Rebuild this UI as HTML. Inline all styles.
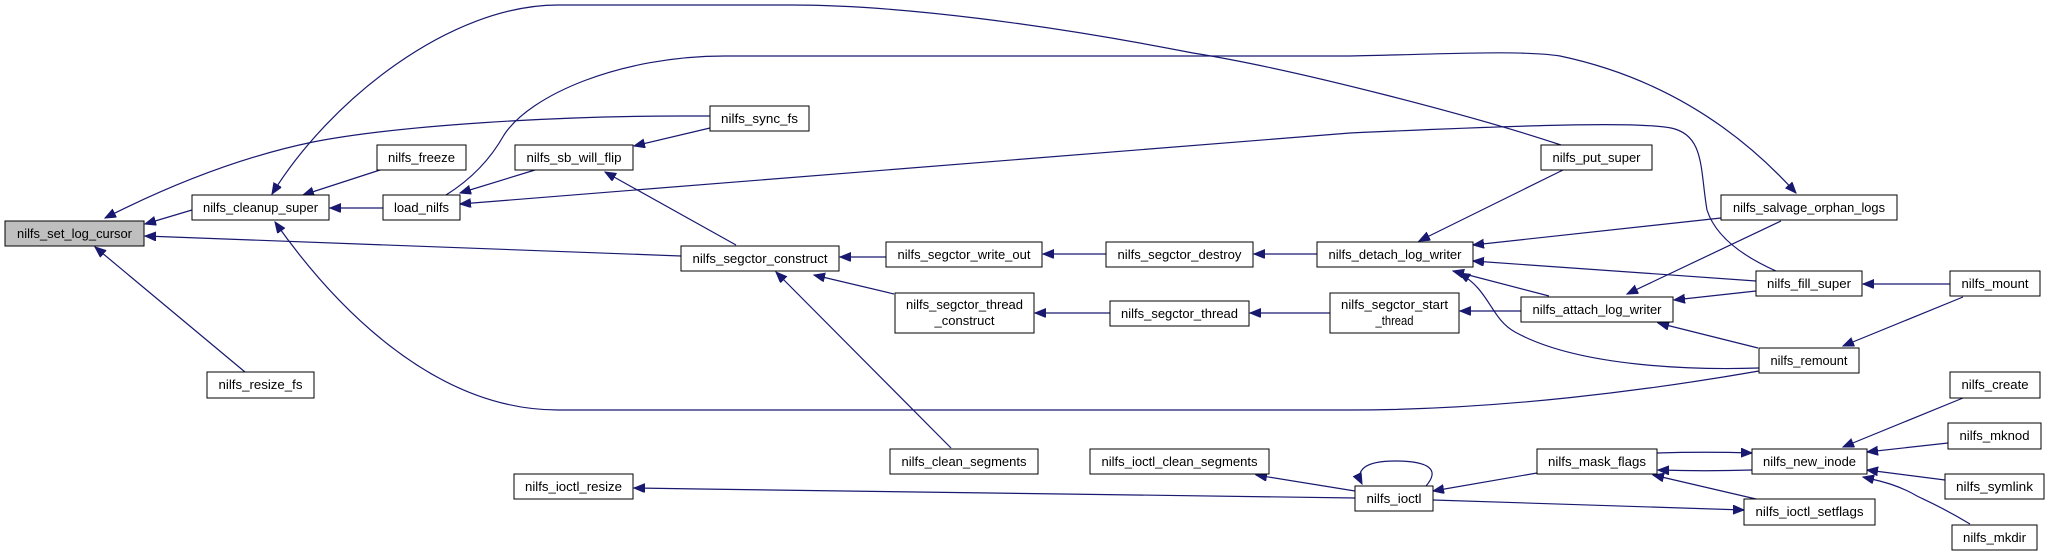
<!DOCTYPE html>
<html><head><meta charset="utf-8"><style>
html,body{margin:0;padding:0;background:#fff;}
svg{display:block;}
text{font-family:"Liberation Sans",Arial,sans-serif;font-size:13px;fill:#000;}
.b{fill:#fff;stroke:#000;stroke-width:1;}
.e{fill:none;stroke:#191970;stroke-width:1.2;}
</style></head><body>
<svg width="2047" height="556" viewBox="0 0 2047 556" xmlns="http://www.w3.org/2000/svg">
<defs>
<marker id="a" markerUnits="userSpaceOnUse" markerWidth="12" markerHeight="10" refX="11" refY="4.5" orient="auto">
<path d="M0,0 L11,4.5 L0,9 z" fill="#191970" stroke="#191970"/>
</marker>
</defs>
<g class="e" marker-end="url(#a)">
<path d="M192,210 L145,224"/>
<path d="M710,116 L680,116 C560,116 400,125 313,142 C250,155 180,180 105,218"/>
<path d="M681,256 L145,236"/>
<path d="M245,372 L95,247"/>
<path d="M380,170 L303,195"/>
<path d="M383,208 L330,208"/>
<path d="M1561,145 C1480,118 1300,70 1193,53 C1050,25 900,5 792,5 L558,5 C450,5 330,100 272,194"/>
<path d="M1759,371 C1650,390 1500,410 1350,410 L558,410 C430,410 330,300 275,222"/>
<path d="M535,170 L460,193"/>
<path d="M1776,271 C1740,255 1715,235 1707,210 C1700,170 1705,135 1671,128 C1640,122 1550,124 1350,133 L460,204"/>
<path d="M446,195 C470,180 490,160 504,135 C530,95 620,56 725,56 L1350,56 C1450,54 1520,50 1560,56 C1650,75 1730,120 1796,193"/>
<path d="M710,128 L634,146"/>
<path d="M736,245 L605,172"/>
<path d="M886,257 L840,257"/>
<path d="M894,294 L814,275"/>
<path d="M951,448 L776,272"/>
<path d="M1106,254 L1043,254"/>
<path d="M1317,254 L1254,254"/>
<path d="M1110,313 L1035,313"/>
<path d="M1330,313 L1250,313"/>
<path d="M1521,311 L1460,311"/>
<path d="M1563,170 L1419,241"/>
<path d="M1721,218 L1473,245"/>
<path d="M1756,281 L1473,261"/>
<path d="M1549,296 L1453,271"/>
<path d="M1759,368 C1700,370 1580,368 1515,332 C1490,318 1490,290 1459,273"/>
<path d="M1781,221 L1627,294"/>
<path d="M1756,291 L1674,300"/>
<path d="M1758,348 L1658,323"/>
<path d="M1950,284 L1863,284"/>
<path d="M1963,297 L1843,346"/>
<path d="M1355,498 L700,489 L634,488"/>
<path d="M1355,491 L1256,475"/>
<path d="M1426,486 C1440,470 1430,461 1395,461 C1365,461 1355,470 1362,484"/>
<path d="M1537,473 L1433,491"/>
<path d="M1433,500 L1744,510"/>
<path d="M1657,453 C1690,452 1720,452 1752,453"/>
<path d="M1752,470 C1720,471 1690,471 1658,470"/>
<path d="M1756,499 L1653,475"/>
<path d="M1963,398 L1843,447"/>
<path d="M1948,443 L1867,452"/>
<path d="M1945,480 L1867,470"/>
<path d="M1970,524 C1940,506 1925,500 1917,496 C1900,486 1885,482 1863,477"/>
</g>
<g>
<rect x="5" y="221" width="139" height="25" fill="#bfbfbf" stroke="#000"/>
<text x="74.5" y="238" text-anchor="middle" textLength="115" lengthAdjust="spacingAndGlyphs">nilfs_set_log_cursor</text>
<rect class="b" x="192" y="195" width="137" height="25"/>
<text x="260.5" y="212" text-anchor="middle" textLength="115" lengthAdjust="spacingAndGlyphs">nilfs_cleanup_super</text>
<rect class="b" x="377" y="145" width="89" height="25"/>
<text x="421.5" y="162" text-anchor="middle" textLength="67" lengthAdjust="spacingAndGlyphs">nilfs_freeze</text>
<rect class="b" x="383" y="195" width="77" height="25"/>
<text x="421.5" y="212" text-anchor="middle" textLength="55" lengthAdjust="spacingAndGlyphs">load_nilfs</text>
<rect class="b" x="515" y="145" width="118" height="25"/>
<text x="574" y="162" text-anchor="middle" textLength="95" lengthAdjust="spacingAndGlyphs">nilfs_sb_will_flip</text>
<rect class="b" x="207" y="372" width="107" height="26"/>
<text x="260.5" y="389" text-anchor="middle" textLength="84" lengthAdjust="spacingAndGlyphs">nilfs_resize_fs</text>
<rect class="b" x="514" y="474" width="119" height="25"/>
<text x="573.5" y="491" text-anchor="middle" textLength="97" lengthAdjust="spacingAndGlyphs">nilfs_ioctl_resize</text>
<rect class="b" x="710" y="106" width="99" height="25"/>
<text x="759.5" y="123" text-anchor="middle" textLength="77" lengthAdjust="spacingAndGlyphs">nilfs_sync_fs</text>
<rect class="b" x="681" y="246" width="158" height="25"/>
<text x="760" y="263" text-anchor="middle" textLength="135" lengthAdjust="spacingAndGlyphs">nilfs_segctor_construct</text>
<rect class="b" x="886" y="242" width="156" height="25"/>
<text x="964" y="259" text-anchor="middle" textLength="133" lengthAdjust="spacingAndGlyphs">nilfs_segctor_write_out</text>
<rect class="b" x="1106" y="242" width="147" height="25"/>
<text x="1179.5" y="259" text-anchor="middle" textLength="124" lengthAdjust="spacingAndGlyphs">nilfs_segctor_destroy</text>
<rect class="b" x="895" y="293" width="139" height="40"/>
<text x="964.5" y="309" text-anchor="middle" textLength="117" lengthAdjust="spacingAndGlyphs">nilfs_segctor_thread</text>
<text x="964.5" y="325" text-anchor="middle" textLength="60" lengthAdjust="spacingAndGlyphs">_construct</text>
<rect class="b" x="1110" y="301" width="139" height="25"/>
<text x="1179.5" y="318" text-anchor="middle" textLength="117" lengthAdjust="spacingAndGlyphs">nilfs_segctor_thread</text>
<rect class="b" x="890" y="449" width="148" height="25"/>
<text x="964" y="466" text-anchor="middle" textLength="125" lengthAdjust="spacingAndGlyphs">nilfs_clean_segments</text>
<rect class="b" x="1090" y="449" width="179" height="25"/>
<text x="1179.5" y="466" text-anchor="middle" textLength="156" lengthAdjust="spacingAndGlyphs">nilfs_ioctl_clean_segments</text>
<rect class="b" x="1317" y="242" width="156" height="25"/>
<text x="1395" y="259" text-anchor="middle" textLength="133" lengthAdjust="spacingAndGlyphs">nilfs_detach_log_writer</text>
<rect class="b" x="1330" y="293" width="129" height="40"/>
<text x="1394.5" y="309" text-anchor="middle" textLength="107" lengthAdjust="spacingAndGlyphs">nilfs_segctor_start</text>
<text x="1394.5" y="325" text-anchor="middle" textLength="38" lengthAdjust="spacingAndGlyphs">_thread</text>
<rect class="b" x="1541" y="145" width="111" height="25"/>
<text x="1596.5" y="162" text-anchor="middle" textLength="88" lengthAdjust="spacingAndGlyphs">nilfs_put_super</text>
<rect class="b" x="1721" y="195" width="176" height="25"/>
<text x="1809" y="212" text-anchor="middle" textLength="152" lengthAdjust="spacingAndGlyphs">nilfs_salvage_orphan_logs</text>
<rect class="b" x="1756" y="271" width="106" height="25"/>
<text x="1809" y="288" text-anchor="middle" textLength="84" lengthAdjust="spacingAndGlyphs">nilfs_fill_super</text>
<rect class="b" x="1950" y="271" width="90" height="25"/>
<text x="1995" y="288" text-anchor="middle" textLength="67" lengthAdjust="spacingAndGlyphs">nilfs_mount</text>
<rect class="b" x="1521" y="297" width="152" height="25"/>
<text x="1597" y="314" text-anchor="middle" textLength="129" lengthAdjust="spacingAndGlyphs">nilfs_attach_log_writer</text>
<rect class="b" x="1759" y="348" width="100" height="25"/>
<text x="1809" y="365" text-anchor="middle" textLength="77" lengthAdjust="spacingAndGlyphs">nilfs_remount</text>
<rect class="b" x="1950" y="372" width="90" height="26"/>
<text x="1995" y="389" text-anchor="middle" textLength="67" lengthAdjust="spacingAndGlyphs">nilfs_create</text>
<rect class="b" x="1948" y="423" width="93" height="26"/>
<text x="1994.5" y="440" text-anchor="middle" textLength="70" lengthAdjust="spacingAndGlyphs">nilfs_mknod</text>
<rect class="b" x="1945" y="474" width="99" height="25"/>
<text x="1994.5" y="491" text-anchor="middle" textLength="77" lengthAdjust="spacingAndGlyphs">nilfs_symlink</text>
<rect class="b" x="1952" y="525" width="85" height="25"/>
<text x="1994.5" y="542" text-anchor="middle" textLength="63" lengthAdjust="spacingAndGlyphs">nilfs_mkdir</text>
<rect class="b" x="1752" y="449" width="115" height="25"/>
<text x="1809.5" y="466" text-anchor="middle" textLength="93" lengthAdjust="spacingAndGlyphs">nilfs_new_inode</text>
<rect class="b" x="1537" y="449" width="120" height="25"/>
<text x="1597" y="466" text-anchor="middle" textLength="98" lengthAdjust="spacingAndGlyphs">nilfs_mask_flags</text>
<rect class="b" x="1744" y="499" width="131" height="26"/>
<text x="1809.5" y="516" text-anchor="middle" textLength="108" lengthAdjust="spacingAndGlyphs">nilfs_ioctl_setflags</text>
<rect class="b" x="1355" y="486" width="78" height="25"/>
<text x="1394" y="503" text-anchor="middle" textLength="55" lengthAdjust="spacingAndGlyphs">nilfs_ioctl</text>
</g>
</svg>
</body></html>
